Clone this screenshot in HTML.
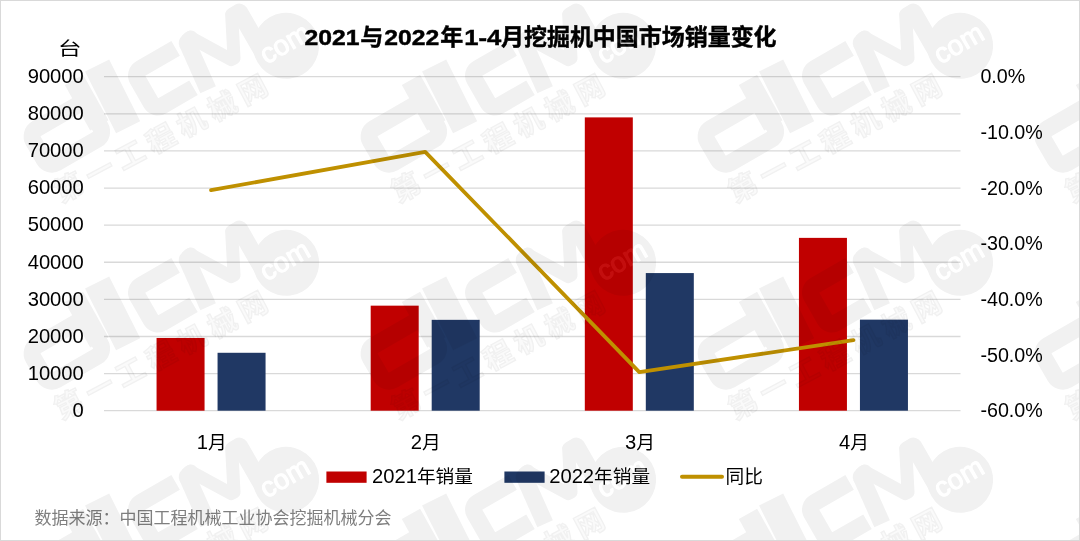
<!DOCTYPE html>
<html lang="zh-CN">
<head>
<meta charset="utf-8">
<title>2021与2022年1-4月挖掘机中国市场销量变化</title>
<style>
html,body{margin:0;padding:0;background:#fff;}
body{width:1080px;height:541px;overflow:hidden;position:relative;font-family:"Liberation Sans", "Noto Sans CJK SC", sans-serif;}
svg{position:absolute;left:0;top:0;display:block;}
text{font-family:"Liberation Sans", "Noto Sans CJK SC", sans-serif;}
.ax{font-size:18.7px;fill:#000;}
.title{font-size:20.6px;font-weight:bold;fill:#000;stroke:#000;stroke-width:0.45px;}
.src{font-size:17px;fill:#7f7f7f;}
.wm text{font-family:"Liberation Sans", "Noto Sans CJK SC", sans-serif;}
</style>
</head>
<body>
<svg width="1080" height="541" viewBox="0 0 1080 541">
<rect x="0" y="0" width="1080" height="541" fill="#ffffff"/>
<g stroke="#d9d9d9" stroke-width="1.3" fill="none">
<line x1="104" y1="76.7" x2="960.5" y2="76.7"/>
<line x1="104" y1="113.81" x2="960.5" y2="113.81"/>
<line x1="104" y1="150.92" x2="960.5" y2="150.92"/>
<line x1="104" y1="188.03" x2="960.5" y2="188.03"/>
<line x1="104" y1="225.14" x2="960.5" y2="225.14"/>
<line x1="104" y1="262.26" x2="960.5" y2="262.26"/>
<line x1="104" y1="299.37" x2="960.5" y2="299.37"/>
<line x1="104" y1="336.48" x2="960.5" y2="336.48"/>
<line x1="104" y1="373.59" x2="960.5" y2="373.59"/>
<line x1="104" y1="410.7" x2="960.5" y2="410.7"/>
</g>
<rect x="156.56" y="337.96" width="48" height="72.74" fill="#c00000"/>
<rect x="217.56" y="352.78" width="48" height="57.92" fill="#203864"/>
<rect x="370.69" y="305.66" width="48" height="105.04" fill="#c00000"/>
<rect x="431.69" y="319.84" width="48" height="90.86" fill="#203864"/>
<rect x="584.81" y="117.39" width="48" height="293.31" fill="#c00000"/>
<rect x="645.81" y="273.07" width="48" height="137.63" fill="#203864"/>
<rect x="798.94" y="237.87" width="48" height="172.83" fill="#c00000"/>
<rect x="859.94" y="319.65" width="48" height="91.05" fill="#203864"/>
<polyline points="211.06,190.13 425.19,151.87 639.31,372.17 853.44,340.12" fill="none" stroke="#bf9000" stroke-width="3.8" stroke-linejoin="round" stroke-linecap="round"/>
<text class="title" x="304.6" y="44.6" style="font-size:22px" textLength="55" lengthAdjust="spacingAndGlyphs">2021</text>
<text class="title" x="360.3" y="45.4" style="font-size:23px">与</text>
<text class="title" x="384.2" y="44.6" style="font-size:22px" textLength="55" lengthAdjust="spacingAndGlyphs">2022</text>
<text class="title" x="440.2" y="45.4" style="font-size:23px">年</text>
<text class="title" x="464.2" y="44.6" style="font-size:22px" textLength="37" lengthAdjust="spacingAndGlyphs">1-4</text>
<text class="title" x="501" y="45.4" style="font-size:23px" textLength="275.6" lengthAdjust="spacing">月挖掘机中国市场销量变化</text>
<text class="ax" x="69.8" y="55" text-anchor="middle" textLength="23.5" lengthAdjust="spacingAndGlyphs">台</text>
<text class="ax" x="83.8" y="83" text-anchor="end" style="font-size:20.2px">90000</text>
<text class="ax" x="83.8" y="120.11" text-anchor="end" style="font-size:20.2px">80000</text>
<text class="ax" x="83.8" y="157.22" text-anchor="end" style="font-size:20.2px">70000</text>
<text class="ax" x="83.8" y="194.33" text-anchor="end" style="font-size:20.2px">60000</text>
<text class="ax" x="83.8" y="231.44" text-anchor="end" style="font-size:20.2px">50000</text>
<text class="ax" x="83.8" y="268.56" text-anchor="end" style="font-size:20.2px">40000</text>
<text class="ax" x="83.8" y="305.67" text-anchor="end" style="font-size:20.2px">30000</text>
<text class="ax" x="83.8" y="342.78" text-anchor="end" style="font-size:20.2px">20000</text>
<text class="ax" x="83.8" y="379.89" text-anchor="end" style="font-size:20.2px">10000</text>
<text class="ax" x="83.8" y="417" text-anchor="end" style="font-size:20.2px">0</text>
<text class="ax" x="980.4" y="83.3" style="font-size:19.7px">0.0%</text>
<text class="ax" x="980.4" y="138.97" style="font-size:19.7px">-10.0%</text>
<text class="ax" x="980.4" y="194.63" style="font-size:19.7px">-20.0%</text>
<text class="ax" x="980.4" y="250.3" style="font-size:19.7px">-30.0%</text>
<text class="ax" x="980.4" y="305.97" style="font-size:19.7px">-40.0%</text>
<text class="ax" x="980.4" y="361.63" style="font-size:19.7px">-50.0%</text>
<text class="ax" x="980.4" y="417.3" style="font-size:19.7px">-60.0%</text>
<text class="ax" x="211.66" y="449.2" text-anchor="middle"><tspan style="font-size:20.2px">1</tspan>月</text>
<text class="ax" x="425.79" y="449.2" text-anchor="middle"><tspan style="font-size:20.2px">2</tspan>月</text>
<text class="ax" x="639.91" y="449.2" text-anchor="middle"><tspan style="font-size:20.2px">3</tspan>月</text>
<text class="ax" x="854.04" y="449.2" text-anchor="middle"><tspan style="font-size:20.2px">4</tspan>月</text>
<rect x="326.4" y="471.5" width="40.2" height="11.3" fill="#c00000"/>
<text class="ax" x="372" y="483.4"><tspan style="font-size:20.2px">2021</tspan>年销量</text>
<rect x="504.4" y="471.5" width="40.2" height="11.3" fill="#203864"/>
<text class="ax" x="549.2" y="483.4"><tspan style="font-size:20.2px">2022</tspan>年销量</text>
<line x1="682" y1="476.8" x2="722" y2="476.8" stroke="#bf9000" stroke-width="4" stroke-linecap="round"/>
<text class="ax" x="725.6" y="483.4">同比</text>
<text class="src" x="34.6" y="523.6">数据来源：中国工程机械工业协会挖掘机械分会</text>
<g class="wm" opacity="0.055">
<g transform="translate(287.6 44.4) rotate(-30)">
<g fill="none" stroke="#000" stroke-width="17" stroke-linejoin="round">
<rect x="-268.5" y="-52.5" width="65" height="39.5" rx="9" ry="9"/>
<line x1="-203.5" y1="-24" x2="-202.8" y2="-76" stroke-width="21"/>
<line x1="-179.5" y1="-8" x2="-175.5" y2="-77" stroke-width="27"/>
<rect x="-147.5" y="-52.5" width="57.5" height="43" rx="8" ry="8" stroke-dasharray="40.5 58.14 88.64 0.01"/>
<line x1="-91.5" y1="-0.5" x2="-86.2" y2="-51.5"/><circle cx="-86.2" cy="-51.5" r="8.5" fill="#000" stroke="none"/>
<polyline stroke-width="13" stroke-linecap="round" points="-81,-55 -56.5,-15 -53.2,-15 -33.7,-53.5"/>
<line x1="-25.5" y1="-4" x2="-25.5" y2="-52" stroke-linecap="round"/>
<line x1="-84" y1="-54.7" x2="-80" y2="-54.7" stroke-width="13" stroke-linecap="round"/>
<line x1="-33" y1="-54" x2="-27" y2="-54" stroke-width="13" stroke-linecap="round"/>
</g>
<circle cx="-2" cy="0.5" r="33" fill="#000"/>
<text x="-2" y="7" text-anchor="middle" font-size="28" fill="#fff" stroke="#fff" stroke-width="1">com</text>
<text x="-275.5" y="24.5" transform="rotate(2 -275.5 24.5)" font-size="28.5" font-weight="bold" letter-spacing="6.2" fill="#000" fill-opacity="0.35" stroke="#000" stroke-width="1.4">第一工程机械网</text>
</g>
<g transform="translate(624.6 44.4) rotate(-30)">
<g fill="none" stroke="#000" stroke-width="17" stroke-linejoin="round">
<rect x="-268.5" y="-52.5" width="65" height="39.5" rx="9" ry="9"/>
<line x1="-203.5" y1="-24" x2="-202.8" y2="-76" stroke-width="21"/>
<line x1="-179.5" y1="-8" x2="-175.5" y2="-77" stroke-width="27"/>
<rect x="-147.5" y="-52.5" width="57.5" height="43" rx="8" ry="8" stroke-dasharray="40.5 58.14 88.64 0.01"/>
<line x1="-91.5" y1="-0.5" x2="-86.2" y2="-51.5"/><circle cx="-86.2" cy="-51.5" r="8.5" fill="#000" stroke="none"/>
<polyline stroke-width="13" stroke-linecap="round" points="-81,-55 -56.5,-15 -53.2,-15 -33.7,-53.5"/>
<line x1="-25.5" y1="-4" x2="-25.5" y2="-52" stroke-linecap="round"/>
<line x1="-84" y1="-54.7" x2="-80" y2="-54.7" stroke-width="13" stroke-linecap="round"/>
<line x1="-33" y1="-54" x2="-27" y2="-54" stroke-width="13" stroke-linecap="round"/>
</g>
<circle cx="-2" cy="0.5" r="33" fill="#000"/>
<text x="-2" y="7" text-anchor="middle" font-size="28" fill="#fff" stroke="#fff" stroke-width="1">com</text>
<text x="-275.5" y="24.5" transform="rotate(2 -275.5 24.5)" font-size="28.5" font-weight="bold" letter-spacing="6.2" fill="#000" fill-opacity="0.35" stroke="#000" stroke-width="1.4">第一工程机械网</text>
</g>
<g transform="translate(961.6 44.4) rotate(-30)">
<g fill="none" stroke="#000" stroke-width="17" stroke-linejoin="round">
<rect x="-268.5" y="-52.5" width="65" height="39.5" rx="9" ry="9"/>
<line x1="-203.5" y1="-24" x2="-202.8" y2="-76" stroke-width="21"/>
<line x1="-179.5" y1="-8" x2="-175.5" y2="-77" stroke-width="27"/>
<rect x="-147.5" y="-52.5" width="57.5" height="43" rx="8" ry="8" stroke-dasharray="40.5 58.14 88.64 0.01"/>
<line x1="-91.5" y1="-0.5" x2="-86.2" y2="-51.5"/><circle cx="-86.2" cy="-51.5" r="8.5" fill="#000" stroke="none"/>
<polyline stroke-width="13" stroke-linecap="round" points="-81,-55 -56.5,-15 -53.2,-15 -33.7,-53.5"/>
<line x1="-25.5" y1="-4" x2="-25.5" y2="-52" stroke-linecap="round"/>
<line x1="-84" y1="-54.7" x2="-80" y2="-54.7" stroke-width="13" stroke-linecap="round"/>
<line x1="-33" y1="-54" x2="-27" y2="-54" stroke-width="13" stroke-linecap="round"/>
</g>
<circle cx="-2" cy="0.5" r="33" fill="#000"/>
<text x="-2" y="7" text-anchor="middle" font-size="28" fill="#fff" stroke="#fff" stroke-width="1">com</text>
<text x="-275.5" y="24.5" transform="rotate(2 -275.5 24.5)" font-size="28.5" font-weight="bold" letter-spacing="6.2" fill="#000" fill-opacity="0.35" stroke="#000" stroke-width="1.4">第一工程机械网</text>
</g>
<g transform="translate(1298.6 44.4) rotate(-30)">
<g fill="none" stroke="#000" stroke-width="17" stroke-linejoin="round">
<rect x="-268.5" y="-52.5" width="65" height="39.5" rx="9" ry="9"/>
<line x1="-203.5" y1="-24" x2="-202.8" y2="-76" stroke-width="21"/>
<line x1="-179.5" y1="-8" x2="-175.5" y2="-77" stroke-width="27"/>
<rect x="-147.5" y="-52.5" width="57.5" height="43" rx="8" ry="8" stroke-dasharray="40.5 58.14 88.64 0.01"/>
<line x1="-91.5" y1="-0.5" x2="-86.2" y2="-51.5"/><circle cx="-86.2" cy="-51.5" r="8.5" fill="#000" stroke="none"/>
<polyline stroke-width="13" stroke-linecap="round" points="-81,-55 -56.5,-15 -53.2,-15 -33.7,-53.5"/>
<line x1="-25.5" y1="-4" x2="-25.5" y2="-52" stroke-linecap="round"/>
<line x1="-84" y1="-54.7" x2="-80" y2="-54.7" stroke-width="13" stroke-linecap="round"/>
<line x1="-33" y1="-54" x2="-27" y2="-54" stroke-width="13" stroke-linecap="round"/>
</g>
<circle cx="-2" cy="0.5" r="33" fill="#000"/>
<text x="-2" y="7" text-anchor="middle" font-size="28" fill="#fff" stroke="#fff" stroke-width="1">com</text>
<text x="-275.5" y="24.5" transform="rotate(2 -275.5 24.5)" font-size="28.5" font-weight="bold" letter-spacing="6.2" fill="#000" fill-opacity="0.35" stroke="#000" stroke-width="1.4">第一工程机械网</text>
</g>
<g transform="translate(287.6 261.4) rotate(-30)">
<g fill="none" stroke="#000" stroke-width="17" stroke-linejoin="round">
<rect x="-268.5" y="-52.5" width="65" height="39.5" rx="9" ry="9"/>
<line x1="-203.5" y1="-24" x2="-202.8" y2="-76" stroke-width="21"/>
<line x1="-179.5" y1="-8" x2="-175.5" y2="-77" stroke-width="27"/>
<rect x="-147.5" y="-52.5" width="57.5" height="43" rx="8" ry="8" stroke-dasharray="40.5 58.14 88.64 0.01"/>
<line x1="-91.5" y1="-0.5" x2="-86.2" y2="-51.5"/><circle cx="-86.2" cy="-51.5" r="8.5" fill="#000" stroke="none"/>
<polyline stroke-width="13" stroke-linecap="round" points="-81,-55 -56.5,-15 -53.2,-15 -33.7,-53.5"/>
<line x1="-25.5" y1="-4" x2="-25.5" y2="-52" stroke-linecap="round"/>
<line x1="-84" y1="-54.7" x2="-80" y2="-54.7" stroke-width="13" stroke-linecap="round"/>
<line x1="-33" y1="-54" x2="-27" y2="-54" stroke-width="13" stroke-linecap="round"/>
</g>
<circle cx="-2" cy="0.5" r="33" fill="#000"/>
<text x="-2" y="7" text-anchor="middle" font-size="28" fill="#fff" stroke="#fff" stroke-width="1">com</text>
<text x="-275.5" y="24.5" transform="rotate(2 -275.5 24.5)" font-size="28.5" font-weight="bold" letter-spacing="6.2" fill="#000" fill-opacity="0.35" stroke="#000" stroke-width="1.4">第一工程机械网</text>
</g>
<g transform="translate(624.6 261.4) rotate(-30)">
<g fill="none" stroke="#000" stroke-width="17" stroke-linejoin="round">
<rect x="-268.5" y="-52.5" width="65" height="39.5" rx="9" ry="9"/>
<line x1="-203.5" y1="-24" x2="-202.8" y2="-76" stroke-width="21"/>
<line x1="-179.5" y1="-8" x2="-175.5" y2="-77" stroke-width="27"/>
<rect x="-147.5" y="-52.5" width="57.5" height="43" rx="8" ry="8" stroke-dasharray="40.5 58.14 88.64 0.01"/>
<line x1="-91.5" y1="-0.5" x2="-86.2" y2="-51.5"/><circle cx="-86.2" cy="-51.5" r="8.5" fill="#000" stroke="none"/>
<polyline stroke-width="13" stroke-linecap="round" points="-81,-55 -56.5,-15 -53.2,-15 -33.7,-53.5"/>
<line x1="-25.5" y1="-4" x2="-25.5" y2="-52" stroke-linecap="round"/>
<line x1="-84" y1="-54.7" x2="-80" y2="-54.7" stroke-width="13" stroke-linecap="round"/>
<line x1="-33" y1="-54" x2="-27" y2="-54" stroke-width="13" stroke-linecap="round"/>
</g>
<circle cx="-2" cy="0.5" r="33" fill="#000"/>
<text x="-2" y="7" text-anchor="middle" font-size="28" fill="#fff" stroke="#fff" stroke-width="1">com</text>
<text x="-275.5" y="24.5" transform="rotate(2 -275.5 24.5)" font-size="28.5" font-weight="bold" letter-spacing="6.2" fill="#000" fill-opacity="0.35" stroke="#000" stroke-width="1.4">第一工程机械网</text>
</g>
<g transform="translate(961.6 261.4) rotate(-30)">
<g fill="none" stroke="#000" stroke-width="17" stroke-linejoin="round">
<rect x="-268.5" y="-52.5" width="65" height="39.5" rx="9" ry="9"/>
<line x1="-203.5" y1="-24" x2="-202.8" y2="-76" stroke-width="21"/>
<line x1="-179.5" y1="-8" x2="-175.5" y2="-77" stroke-width="27"/>
<rect x="-147.5" y="-52.5" width="57.5" height="43" rx="8" ry="8" stroke-dasharray="40.5 58.14 88.64 0.01"/>
<line x1="-91.5" y1="-0.5" x2="-86.2" y2="-51.5"/><circle cx="-86.2" cy="-51.5" r="8.5" fill="#000" stroke="none"/>
<polyline stroke-width="13" stroke-linecap="round" points="-81,-55 -56.5,-15 -53.2,-15 -33.7,-53.5"/>
<line x1="-25.5" y1="-4" x2="-25.5" y2="-52" stroke-linecap="round"/>
<line x1="-84" y1="-54.7" x2="-80" y2="-54.7" stroke-width="13" stroke-linecap="round"/>
<line x1="-33" y1="-54" x2="-27" y2="-54" stroke-width="13" stroke-linecap="round"/>
</g>
<circle cx="-2" cy="0.5" r="33" fill="#000"/>
<text x="-2" y="7" text-anchor="middle" font-size="28" fill="#fff" stroke="#fff" stroke-width="1">com</text>
<text x="-275.5" y="24.5" transform="rotate(2 -275.5 24.5)" font-size="28.5" font-weight="bold" letter-spacing="6.2" fill="#000" fill-opacity="0.35" stroke="#000" stroke-width="1.4">第一工程机械网</text>
</g>
<g transform="translate(1298.6 261.4) rotate(-30)">
<g fill="none" stroke="#000" stroke-width="17" stroke-linejoin="round">
<rect x="-268.5" y="-52.5" width="65" height="39.5" rx="9" ry="9"/>
<line x1="-203.5" y1="-24" x2="-202.8" y2="-76" stroke-width="21"/>
<line x1="-179.5" y1="-8" x2="-175.5" y2="-77" stroke-width="27"/>
<rect x="-147.5" y="-52.5" width="57.5" height="43" rx="8" ry="8" stroke-dasharray="40.5 58.14 88.64 0.01"/>
<line x1="-91.5" y1="-0.5" x2="-86.2" y2="-51.5"/><circle cx="-86.2" cy="-51.5" r="8.5" fill="#000" stroke="none"/>
<polyline stroke-width="13" stroke-linecap="round" points="-81,-55 -56.5,-15 -53.2,-15 -33.7,-53.5"/>
<line x1="-25.5" y1="-4" x2="-25.5" y2="-52" stroke-linecap="round"/>
<line x1="-84" y1="-54.7" x2="-80" y2="-54.7" stroke-width="13" stroke-linecap="round"/>
<line x1="-33" y1="-54" x2="-27" y2="-54" stroke-width="13" stroke-linecap="round"/>
</g>
<circle cx="-2" cy="0.5" r="33" fill="#000"/>
<text x="-2" y="7" text-anchor="middle" font-size="28" fill="#fff" stroke="#fff" stroke-width="1">com</text>
<text x="-275.5" y="24.5" transform="rotate(2 -275.5 24.5)" font-size="28.5" font-weight="bold" letter-spacing="6.2" fill="#000" fill-opacity="0.35" stroke="#000" stroke-width="1.4">第一工程机械网</text>
</g>
<g transform="translate(287.6 478.4) rotate(-30)">
<g fill="none" stroke="#000" stroke-width="17" stroke-linejoin="round">
<rect x="-268.5" y="-52.5" width="65" height="39.5" rx="9" ry="9"/>
<line x1="-203.5" y1="-24" x2="-202.8" y2="-76" stroke-width="21"/>
<line x1="-179.5" y1="-8" x2="-175.5" y2="-77" stroke-width="27"/>
<rect x="-147.5" y="-52.5" width="57.5" height="43" rx="8" ry="8" stroke-dasharray="40.5 58.14 88.64 0.01"/>
<line x1="-91.5" y1="-0.5" x2="-86.2" y2="-51.5"/><circle cx="-86.2" cy="-51.5" r="8.5" fill="#000" stroke="none"/>
<polyline stroke-width="13" stroke-linecap="round" points="-81,-55 -56.5,-15 -53.2,-15 -33.7,-53.5"/>
<line x1="-25.5" y1="-4" x2="-25.5" y2="-52" stroke-linecap="round"/>
<line x1="-84" y1="-54.7" x2="-80" y2="-54.7" stroke-width="13" stroke-linecap="round"/>
<line x1="-33" y1="-54" x2="-27" y2="-54" stroke-width="13" stroke-linecap="round"/>
</g>
<circle cx="-2" cy="0.5" r="33" fill="#000"/>
<text x="-2" y="7" text-anchor="middle" font-size="28" fill="#fff" stroke="#fff" stroke-width="1">com</text>
<text x="-275.5" y="24.5" transform="rotate(2 -275.5 24.5)" font-size="28.5" font-weight="bold" letter-spacing="6.2" fill="#000" fill-opacity="0.35" stroke="#000" stroke-width="1.4">第一工程机械网</text>
</g>
<g transform="translate(624.6 478.4) rotate(-30)">
<g fill="none" stroke="#000" stroke-width="17" stroke-linejoin="round">
<rect x="-268.5" y="-52.5" width="65" height="39.5" rx="9" ry="9"/>
<line x1="-203.5" y1="-24" x2="-202.8" y2="-76" stroke-width="21"/>
<line x1="-179.5" y1="-8" x2="-175.5" y2="-77" stroke-width="27"/>
<rect x="-147.5" y="-52.5" width="57.5" height="43" rx="8" ry="8" stroke-dasharray="40.5 58.14 88.64 0.01"/>
<line x1="-91.5" y1="-0.5" x2="-86.2" y2="-51.5"/><circle cx="-86.2" cy="-51.5" r="8.5" fill="#000" stroke="none"/>
<polyline stroke-width="13" stroke-linecap="round" points="-81,-55 -56.5,-15 -53.2,-15 -33.7,-53.5"/>
<line x1="-25.5" y1="-4" x2="-25.5" y2="-52" stroke-linecap="round"/>
<line x1="-84" y1="-54.7" x2="-80" y2="-54.7" stroke-width="13" stroke-linecap="round"/>
<line x1="-33" y1="-54" x2="-27" y2="-54" stroke-width="13" stroke-linecap="round"/>
</g>
<circle cx="-2" cy="0.5" r="33" fill="#000"/>
<text x="-2" y="7" text-anchor="middle" font-size="28" fill="#fff" stroke="#fff" stroke-width="1">com</text>
<text x="-275.5" y="24.5" transform="rotate(2 -275.5 24.5)" font-size="28.5" font-weight="bold" letter-spacing="6.2" fill="#000" fill-opacity="0.35" stroke="#000" stroke-width="1.4">第一工程机械网</text>
</g>
<g transform="translate(961.6 478.4) rotate(-30)">
<g fill="none" stroke="#000" stroke-width="17" stroke-linejoin="round">
<rect x="-268.5" y="-52.5" width="65" height="39.5" rx="9" ry="9"/>
<line x1="-203.5" y1="-24" x2="-202.8" y2="-76" stroke-width="21"/>
<line x1="-179.5" y1="-8" x2="-175.5" y2="-77" stroke-width="27"/>
<rect x="-147.5" y="-52.5" width="57.5" height="43" rx="8" ry="8" stroke-dasharray="40.5 58.14 88.64 0.01"/>
<line x1="-91.5" y1="-0.5" x2="-86.2" y2="-51.5"/><circle cx="-86.2" cy="-51.5" r="8.5" fill="#000" stroke="none"/>
<polyline stroke-width="13" stroke-linecap="round" points="-81,-55 -56.5,-15 -53.2,-15 -33.7,-53.5"/>
<line x1="-25.5" y1="-4" x2="-25.5" y2="-52" stroke-linecap="round"/>
<line x1="-84" y1="-54.7" x2="-80" y2="-54.7" stroke-width="13" stroke-linecap="round"/>
<line x1="-33" y1="-54" x2="-27" y2="-54" stroke-width="13" stroke-linecap="round"/>
</g>
<circle cx="-2" cy="0.5" r="33" fill="#000"/>
<text x="-2" y="7" text-anchor="middle" font-size="28" fill="#fff" stroke="#fff" stroke-width="1">com</text>
<text x="-275.5" y="24.5" transform="rotate(2 -275.5 24.5)" font-size="28.5" font-weight="bold" letter-spacing="6.2" fill="#000" fill-opacity="0.35" stroke="#000" stroke-width="1.4">第一工程机械网</text>
</g>
<g transform="translate(1298.6 478.4) rotate(-30)">
<g fill="none" stroke="#000" stroke-width="17" stroke-linejoin="round">
<rect x="-268.5" y="-52.5" width="65" height="39.5" rx="9" ry="9"/>
<line x1="-203.5" y1="-24" x2="-202.8" y2="-76" stroke-width="21"/>
<line x1="-179.5" y1="-8" x2="-175.5" y2="-77" stroke-width="27"/>
<rect x="-147.5" y="-52.5" width="57.5" height="43" rx="8" ry="8" stroke-dasharray="40.5 58.14 88.64 0.01"/>
<line x1="-91.5" y1="-0.5" x2="-86.2" y2="-51.5"/><circle cx="-86.2" cy="-51.5" r="8.5" fill="#000" stroke="none"/>
<polyline stroke-width="13" stroke-linecap="round" points="-81,-55 -56.5,-15 -53.2,-15 -33.7,-53.5"/>
<line x1="-25.5" y1="-4" x2="-25.5" y2="-52" stroke-linecap="round"/>
<line x1="-84" y1="-54.7" x2="-80" y2="-54.7" stroke-width="13" stroke-linecap="round"/>
<line x1="-33" y1="-54" x2="-27" y2="-54" stroke-width="13" stroke-linecap="round"/>
</g>
<circle cx="-2" cy="0.5" r="33" fill="#000"/>
<text x="-2" y="7" text-anchor="middle" font-size="28" fill="#fff" stroke="#fff" stroke-width="1">com</text>
<text x="-275.5" y="24.5" transform="rotate(2 -275.5 24.5)" font-size="28.5" font-weight="bold" letter-spacing="6.2" fill="#000" fill-opacity="0.35" stroke="#000" stroke-width="1.4">第一工程机械网</text>
</g>
</g>
<rect x="0.5" y="0.5" width="1079" height="540" fill="none" stroke="#d9d9d9" stroke-width="1"/>
</svg>
</body>
</html>
